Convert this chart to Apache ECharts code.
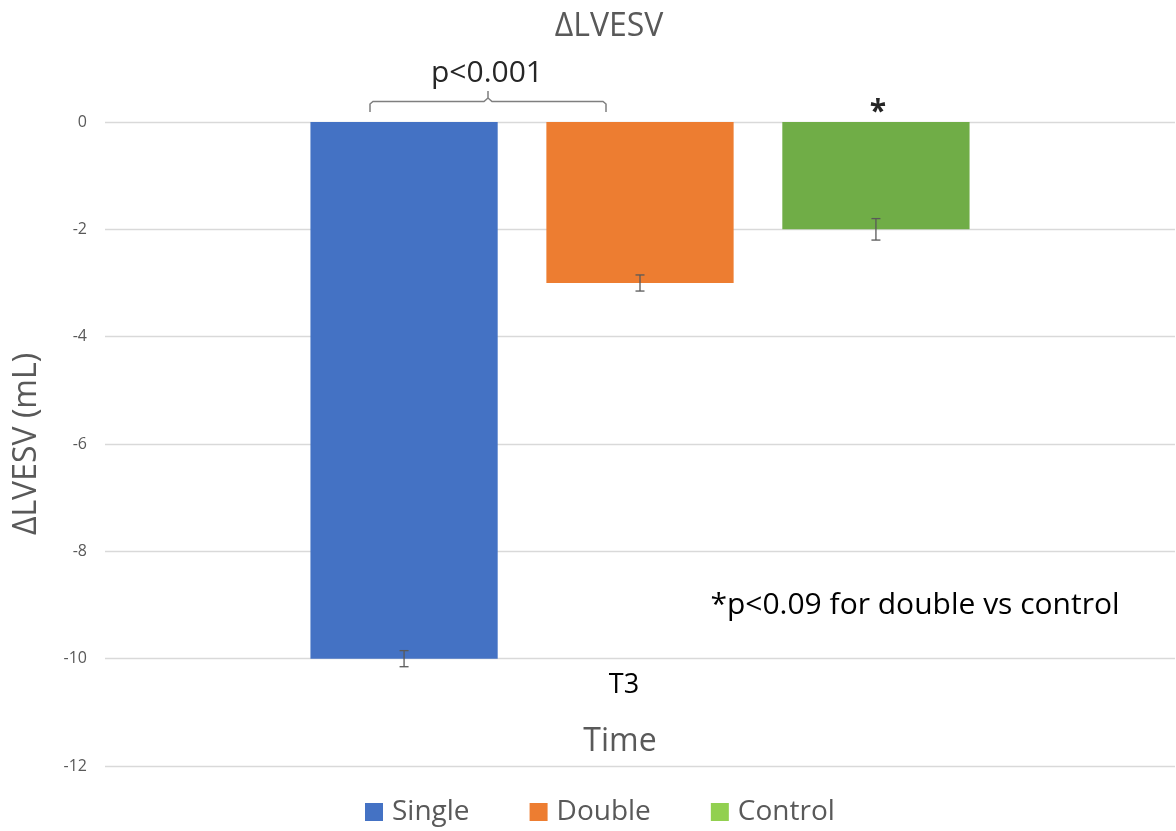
<!DOCTYPE html>
<html>
<head>
<meta charset="utf-8">
<script src="https://cdn.jsdelivr.net/npm/echarts@6/dist/echarts.min.js"></script>
<style>html,body{margin:0;padding:0;background:#fff;}#c{width:1176px;height:831px;}</style>
</head>
<body>
<div id="c"></div>
<script>
var categories = ['T3'];
var seriesNames = ['Single', 'Double', 'Control'];
var singleValues = [-10];
var doubleValues = [-3];
var controlValues = [-2];
var errors = [0.15, 0.15, 0.2];
var yTicks = [0, -2, -4, -6, -8, -10, -12];

var colors = ['#4472C4', '#ED7D31', '#70AD47'];
var legendColors = ['#4472C4', '#ED7D31', '#92D050'];
var FONT = '"Open Sans", "Noto Sans", sans-serif';
var values = [singleValues, doubleValues, controlValues];

var barGap = 0.26, catGap = 0.384;

var chart = echarts.init(document.getElementById('c'));

var series = seriesNames.map(function (n, i) {
  return {
    name: n, type: 'bar', data: values[i],
    barGap: '26%', barCategoryGap: '38.4%',
    itemStyle: { color: colors[i] }
  };
});

var errData = [];
seriesNames.forEach(function (n, i) {
  errData.push([0, values[i][0], errors[i], i]);
});

series.push({
  type: 'custom', name: 'err', silent: true, z: 10,
  data: errData,
  encode: { x: 0, y: 1 },
  renderItem: function (params, api) {
    var band = api.size([1, 0])[0];
    var bw = band * (1 - catGap) / (3 + 2 * barGap);
    var idx = api.value(3);
    var off = (idx - 1) * bw * (1 + barGap);
    var v = api.value(1), e = api.value(2);
    var top = api.coord([api.value(0), v + e]);
    var bot = api.coord([api.value(0), v - e]);
    var x = top[0] + off;
    var cap = 4.5;
    var st = { stroke: '#595959', lineWidth: 1.3 };
    return {
      type: 'group', children: [
        { type: 'line', shape: { x1: x, y1: top[1], x2: x, y2: bot[1] }, style: st },
        { type: 'line', shape: { x1: x - cap, y1: top[1], x2: x + cap, y2: top[1] }, style: st },
        { type: 'line', shape: { x1: x - cap, y1: bot[1], x2: x + cap, y2: bot[1] }, style: st }
      ]
    };
  }
});

chart.setOption({
  animation: false,
  backgroundColor: '#fff',
  title: {
    text: 'ΔLVESV', left: 604, top: 6, textAlign: 'center',
    textStyle: { fontFamily: FONT, fontSize: 32, fontWeight: 'normal', color: '#595959' }
  },
  legend: {
    data: seriesNames.map(function (n, i) { return { name: n, itemStyle: { color: legendColors[i] } }; }),
    bottom: 0, left: 360, itemWidth: 18, itemHeight: 18, itemGap: 60,
    icon: 'rect',
    textStyle: { fontFamily: FONT, fontSize: 28, color: '#595959', padding: [0, 0, 0, 4] }
  },
  grid: { left: 105, right: 1, top: 122, bottom: 65, outerBoundsMode: 'none' },
  xAxis: {
    type: 'category', data: categories,
    axisLine: { show: false }, axisTick: { show: false },
    axisLabel: { margin: -94, fontFamily: FONT, fontSize: 27, color: '#000', padding: [0, 32, 0, 0] },
    name: 'Time', nameLocation: 'middle', nameGap: -24,
    nameTextStyle: { fontFamily: FONT, fontSize: 32, color: '#595959', verticalAlign: 'middle', padding: [0, 40, 0, 0] }
  },
  yAxis: {
    type: 'value', min: -12, max: 0, interval: 2,
    axisLine: { show: false }, axisTick: { show: false },
    splitLine: { lineStyle: { color: '#d9d9d9', width: 1.3 } },
    axisLabel: { margin: 18, fontFamily: FONT, fontSize: 16, color: '#595959',
      formatter: function (v) { return yTicks.indexOf(v) >= 0 ? String(v) : ''; } },
    name: 'ΔLVESV (mL)', nameLocation: 'middle', nameGap: 62, nameRotate: 90,
    nameTextStyle: { fontFamily: FONT, fontSize: 32, color: '#595959' }
  },
  graphic: [
    { type: 'text', position: [487, 73], style: { text: 'p<0.001', fontFamily: FONT, fontSize: 30, fill: '#262626', textAlign: 'center', textVerticalAlign: 'middle' } },
    { type: 'polyline', shape: { points: [[370, 112], [370, 104], [373, 101.5], [484, 101.5], [488, 98], [488, 91], [488, 98], [492, 101.5], [603, 101.5], [606, 104], [606, 112]] },
      style: { stroke: '#7f7f7f', lineWidth: 1.5, fill: null } },
    { type: 'text', position: [878, 112], style: { text: '*', fontFamily: FONT, fontSize: 30, fontWeight: 'bold', fill: '#262626', textAlign: 'center', textVerticalAlign: 'middle' } },
    { type: 'text', position: [915, 605], style: { text: '*p<0.09 for double vs control', fontFamily: FONT, fontSize: 30, fill: '#000', textAlign: 'center', textVerticalAlign: 'middle' } }
  ],
  series: series
});
</script>
</body>
</html>
